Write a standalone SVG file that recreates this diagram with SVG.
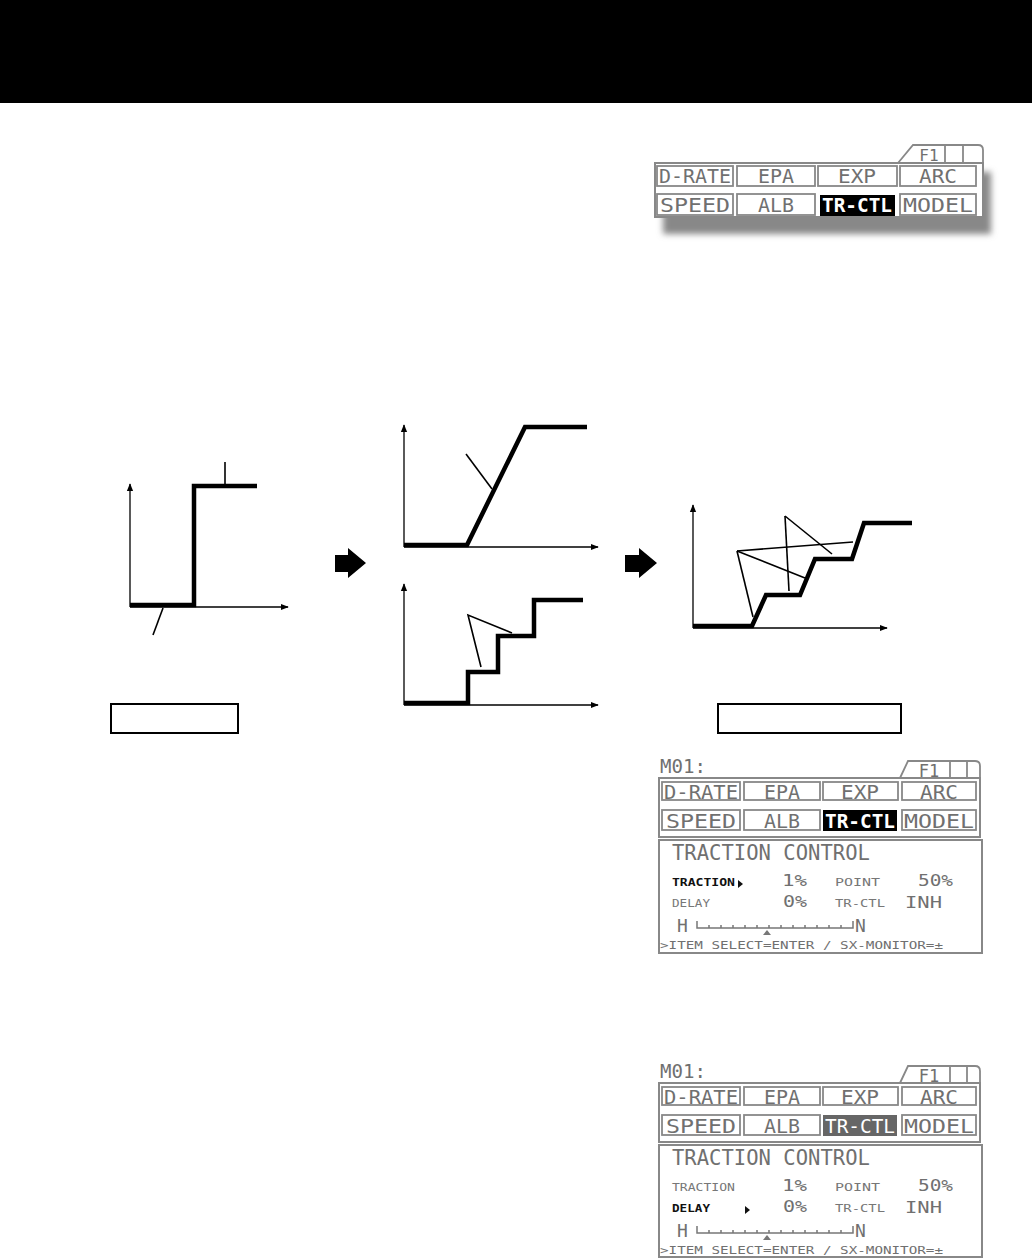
<svg xmlns="http://www.w3.org/2000/svg" width="1032" height="1258" viewBox="0 0 1032 1258">
<defs>
<style>
.ax{stroke:#000;stroke-width:1.3;fill:none}
.th{stroke:#000;stroke-width:4.5;fill:none;stroke-linejoin:miter}
.ld{stroke:#000;stroke-width:1.6;fill:none}
.cell{fill:#fff;stroke:#888;stroke-width:1.8}
.frame{fill:#fff;stroke:#888;stroke-width:2}
.lcd{font-family:"DejaVu Sans Mono","Liberation Mono",monospace;fill:#707070}
.lcdb{font-family:"DejaVu Sans Mono","Liberation Mono",monospace;fill:#111;font-weight:bold}
.sm{font-family:"DejaVu Sans Mono","Liberation Mono",monospace;fill:#777;font-size:11px}
.smb{font-family:"DejaVu Sans Mono","Liberation Mono",monospace;fill:#111;font-size:11px;font-weight:bold}
.val{font-family:"DejaVu Sans Mono","Liberation Mono",monospace;fill:#707070;font-size:16px}
.lbl{fill:none;stroke:#000;stroke-width:2}
</style>
<marker id="ah" viewBox="0 0 10 10" refX="9" refY="5" markerWidth="8" markerHeight="8" markerUnits="userSpaceOnUse" orient="auto"><path d="M0,1 L10,5 L0,9 z" fill="#000"/></marker>
<filter id="sh" x="-10%" y="-20%" width="130%" height="160%"><feGaussianBlur stdDeviation="3"/></filter>
</defs>
<rect x="0" y="0" width="1032" height="103" fill="#000"/>

<g id="menu-top">
<rect x="663" y="172" width="328" height="62" fill="#888" filter="url(#sh)"/>
<path d="M898,163 L913,145 L978,145 Q983,145 983,150 L983,163" fill="#fff" stroke="#888" stroke-width="1.8"/>
<line x1="945" y1="145" x2="945" y2="163" stroke="#888" stroke-width="1.8"/>
<line x1="963" y1="145" x2="963" y2="163" stroke="#888" stroke-width="1.8"/>
<text x="929" y="161" text-anchor="middle" class="lcd" font-size="16" fill="#000">F1</text>
<rect x="655" y="163" width="328" height="54" class="frame"/>
<rect x="657" y="166" width="76" height="20" class="cell"/>
<rect x="737" y="166" width="78" height="20" class="cell"/>
<rect x="818" y="166" width="79" height="20" class="cell"/>
<rect x="900" y="166" width="76" height="20" class="cell"/>
<rect x="657" y="194" width="76" height="21" class="cell"/>
<rect x="737" y="194" width="78" height="21" class="cell"/>
<rect x="820" y="195" width="75" height="21" fill="#000"/>
<rect x="900" y="194" width="76" height="21" class="cell"/>
<g class="lcd" font-size="19" text-anchor="middle">
<text x="695" y="183" textLength="72" lengthAdjust="spacingAndGlyphs">D-RATE</text>
<text x="776" y="183" textLength="36" lengthAdjust="spacingAndGlyphs">EPA</text>
<text x="857" y="183" textLength="38" lengthAdjust="spacingAndGlyphs">EXP</text>
<text x="938" y="183" textLength="38" lengthAdjust="spacingAndGlyphs">ARC</text>
<text x="695" y="212" textLength="70" lengthAdjust="spacingAndGlyphs">SPEED</text>
<text x="776" y="212" textLength="36" lengthAdjust="spacingAndGlyphs">ALB</text>
<text x="857" y="212" textLength="70" lengthAdjust="spacingAndGlyphs" fill="#fff" font-weight="bold">TR-CTL</text>
<text x="938" y="212" textLength="70" lengthAdjust="spacingAndGlyphs">MODEL</text>
</g>
</g>

<g id="graph-left">
<line x1="130" y1="607" x2="130" y2="484" class="ax" marker-end="url(#ah)"/>
<line x1="130" y1="607" x2="288" y2="607" class="ax" marker-end="url(#ah)"/>
<polyline points="130,605 194,605 194,486 257,486" class="th"/>
<line x1="225" y1="462" x2="225" y2="484" class="ld"/>
<line x1="163" y1="608" x2="153" y2="635" class="ld"/>
<rect x="111" y="704" width="127" height="29" class="lbl"/>
</g>

<g id="graph-mid-top">
<line x1="404" y1="547" x2="404" y2="425" class="ax" marker-end="url(#ah)"/>
<line x1="404" y1="547" x2="598" y2="547" class="ax" marker-end="url(#ah)"/>
<polyline points="404,545 467,545 525,427 587,427" class="th"/>
<line x1="466" y1="454" x2="492" y2="489" class="ld"/>
</g>

<g id="graph-mid-bottom">
<line x1="404" y1="705" x2="404" y2="584" class="ax" marker-end="url(#ah)"/>
<line x1="404" y1="705" x2="598" y2="705" class="ax" marker-end="url(#ah)"/>
<polyline points="404,703 468,703 468,672 498,672 498,636 534,636 534,600 583,600" class="th"/>
<polyline points="481,667 468,615 512,633" class="ld"/>
</g>

<g id="graph-right">
<line x1="693" y1="628" x2="693" y2="505" class="ax" marker-end="url(#ah)"/>
<line x1="693" y1="628" x2="887" y2="628" class="ax" marker-end="url(#ah)"/>
<polyline points="693,626 752,626 766,595 800,595 815,559 852,559 864,523 912,523" class="th"/>
<line x1="737" y1="551" x2="753" y2="617" class="ld"/>
<line x1="737" y1="551" x2="805" y2="578" class="ld"/>
<line x1="737" y1="551" x2="853" y2="542" class="ld"/>
<line x1="785" y1="516" x2="789" y2="591" class="ld"/>
<line x1="785" y1="516" x2="832" y2="554" class="ld"/>
<rect x="718" y="704" width="183" height="29" class="lbl"/>
</g>

<g id="connectors">
<path d="M335,555 L348,555 L348,548 L366,563 L348,578 L348,572 L335,572 z" fill="#000"/>
<path d="M625,555 L639,555 L639,548 L657,563 L639,578 L639,572 L625,572 z" fill="#000"/>
</g>

<g id="screen-1">
<text x="660" y="773" class="lcd" font-size="19" textLength="46" lengthAdjust="spacingAndGlyphs">M01:</text>
<path d="M900,778 L908,761 L975,761 Q980,761 980,766 L980,778" fill="#fff" stroke="#888" stroke-width="1.8"/>
<line x1="950" y1="761" x2="950" y2="778" stroke="#888" stroke-width="1.8"/>
<line x1="967" y1="761" x2="967" y2="778" stroke="#888" stroke-width="1.8"/>
<text x="929" y="777" text-anchor="middle" class="lcd" font-size="17">F1</text>
<rect x="659" y="778" width="321" height="59" class="frame"/>
<rect x="662" y="782" width="78" height="18" class="cell"/>
<rect x="744" y="782" width="76" height="18" class="cell"/>
<rect x="823" y="782" width="75" height="18" class="cell"/>
<rect x="902" y="782" width="74" height="18" class="cell"/>
<rect x="662" y="810" width="78" height="20" class="cell"/>
<rect x="744" y="810" width="76" height="20" class="cell"/>
<rect x="823" y="810" width="74" height="21" fill="#000"/>
<rect x="902" y="810" width="74" height="20" class="cell"/>
<g class="lcd" font-size="19" text-anchor="middle">
<text x="701" y="799" textLength="74" lengthAdjust="spacingAndGlyphs">D-RATE</text>
<text x="782" y="799" textLength="36" lengthAdjust="spacingAndGlyphs">EPA</text>
<text x="860" y="799" textLength="38" lengthAdjust="spacingAndGlyphs">EXP</text>
<text x="939" y="799" textLength="38" lengthAdjust="spacingAndGlyphs">ARC</text>
<text x="701" y="828" textLength="70" lengthAdjust="spacingAndGlyphs">SPEED</text>
<text x="782" y="828" textLength="36" lengthAdjust="spacingAndGlyphs">ALB</text>
<text x="860" y="828" textLength="70" lengthAdjust="spacingAndGlyphs" fill="#fff" font-weight="bold">TR-CTL</text>
<text x="939" y="828" textLength="70" lengthAdjust="spacingAndGlyphs">MODEL</text>
</g>
<rect x="659" y="840" width="323" height="113" class="frame"/>
<text x="672" y="860" class="lcd" font-size="21" textLength="198" lengthAdjust="spacingAndGlyphs">TRACTION CONTROL</text>
<text x="672" y="886" class="smb" textLength="63" lengthAdjust="spacingAndGlyphs">TRACTION</text>
<path d="M738,880 L743,884 L738,888 z" fill="#111"/>
<text x="782" y="886" class="val" fill="#222" textLength="25" lengthAdjust="spacingAndGlyphs">1%</text>
<text x="835" y="886" class="sm" textLength="45" lengthAdjust="spacingAndGlyphs">POINT</text>
<text x="918" y="886" class="val" textLength="35" lengthAdjust="spacingAndGlyphs">50%</text>
<text x="672" y="907" class="sm" textLength="38" lengthAdjust="spacingAndGlyphs">DELAY</text>
<text x="783" y="907" class="val" textLength="24" lengthAdjust="spacingAndGlyphs">0%</text>
<text x="835" y="907" class="sm" textLength="50" lengthAdjust="spacingAndGlyphs">TR-CTL</text>
<text x="905" y="908" class="val" font-size="18" textLength="37" lengthAdjust="spacingAndGlyphs">INH</text>
<text x="677" y="932" class="lcd" font-size="18">H</text>
<path d="M697,921 V928 H853 V921 M709,928 V925 M721,928 V925 M733,928 V925 M745,928 V925 M757,928 V925 M769,928 V925 M781,928 V925 M793,928 V925 M805,928 V925 M817,928 V925 M829,928 V925 M841,928 V925" fill="none" stroke="#777" stroke-width="1.5"/>
<text x="855" y="932" class="lcd" font-size="18">N</text>
<path d="M763,935 L767,930 L771,935 z" fill="#777"/>
<text x="660" y="949" class="lcd" font-size="11" fill="#555" textLength="283" lengthAdjust="spacingAndGlyphs">&gt;ITEM SELECT=ENTER / SX-MONITOR=±</text>
</g>

<g id="screen-2">
<text x="660" y="1078" class="lcd" font-size="19" textLength="46" lengthAdjust="spacingAndGlyphs">M01:</text>
<path d="M900,1083 L908,1066 L975,1066 Q980,1066 980,1071 L980,1083" fill="#fff" stroke="#888" stroke-width="1.8"/>
<line x1="950" y1="1066" x2="950" y2="1083" stroke="#888" stroke-width="1.8"/>
<line x1="967" y1="1066" x2="967" y2="1083" stroke="#888" stroke-width="1.8"/>
<text x="929" y="1082" text-anchor="middle" class="lcd" font-size="17">F1</text>
<rect x="659" y="1083" width="321" height="59" class="frame"/>
<rect x="662" y="1087" width="78" height="18" class="cell"/>
<rect x="744" y="1087" width="76" height="18" class="cell"/>
<rect x="823" y="1087" width="75" height="18" class="cell"/>
<rect x="902" y="1087" width="74" height="18" class="cell"/>
<rect x="662" y="1115" width="78" height="20" class="cell"/>
<rect x="744" y="1115" width="76" height="20" class="cell"/>
<rect x="823" y="1115" width="74" height="21" fill="#666"/>
<rect x="902" y="1115" width="74" height="20" class="cell"/>
<g class="lcd" font-size="19" text-anchor="middle">
<text x="701" y="1104" textLength="74" lengthAdjust="spacingAndGlyphs">D-RATE</text>
<text x="782" y="1104" textLength="36" lengthAdjust="spacingAndGlyphs">EPA</text>
<text x="860" y="1104" textLength="38" lengthAdjust="spacingAndGlyphs">EXP</text>
<text x="939" y="1104" textLength="38" lengthAdjust="spacingAndGlyphs">ARC</text>
<text x="701" y="1133" textLength="70" lengthAdjust="spacingAndGlyphs">SPEED</text>
<text x="782" y="1133" textLength="36" lengthAdjust="spacingAndGlyphs">ALB</text>
<text x="860" y="1133" textLength="70" lengthAdjust="spacingAndGlyphs" fill="#fff">TR-CTL</text>
<text x="939" y="1133" textLength="70" lengthAdjust="spacingAndGlyphs">MODEL</text>
</g>
<rect x="659" y="1145" width="323" height="112" class="frame"/>
<text x="672" y="1165" class="lcd" font-size="21" textLength="198" lengthAdjust="spacingAndGlyphs">TRACTION CONTROL</text>
<text x="672" y="1191" class="sm" textLength="63" lengthAdjust="spacingAndGlyphs">TRACTION</text>
<text x="782" y="1191" class="val" textLength="25" lengthAdjust="spacingAndGlyphs">1%</text>
<text x="835" y="1191" class="sm" textLength="45" lengthAdjust="spacingAndGlyphs">POINT</text>
<text x="918" y="1191" class="val" textLength="35" lengthAdjust="spacingAndGlyphs">50%</text>
<text x="672" y="1212" class="smb" textLength="38" lengthAdjust="spacingAndGlyphs">DELAY</text>
<path d="M745,1206 L750,1210 L745,1214 z" fill="#111"/>
<text x="783" y="1212" class="val" fill="#222" textLength="24" lengthAdjust="spacingAndGlyphs">0%</text>
<text x="835" y="1212" class="sm" textLength="50" lengthAdjust="spacingAndGlyphs">TR-CTL</text>
<text x="905" y="1213" class="val" font-size="18" textLength="37" lengthAdjust="spacingAndGlyphs">INH</text>
<text x="677" y="1237" class="lcd" font-size="18">H</text>
<path d="M697,1226 V1233 H853 V1226 M709,1233 V1230 M721,1233 V1230 M733,1233 V1230 M745,1233 V1230 M757,1233 V1230 M769,1233 V1230 M781,1233 V1230 M793,1233 V1230 M805,1233 V1230 M817,1233 V1230 M829,1233 V1230 M841,1233 V1230" fill="none" stroke="#777" stroke-width="1.5"/>
<text x="855" y="1237" class="lcd" font-size="18">N</text>
<path d="M763,1240 L767,1235 L771,1240 z" fill="#777"/>
<text x="660" y="1254" class="lcd" font-size="11" fill="#555" textLength="283" lengthAdjust="spacingAndGlyphs">&gt;ITEM SELECT=ENTER / SX-MONITOR=±</text>
</g>
</svg>
